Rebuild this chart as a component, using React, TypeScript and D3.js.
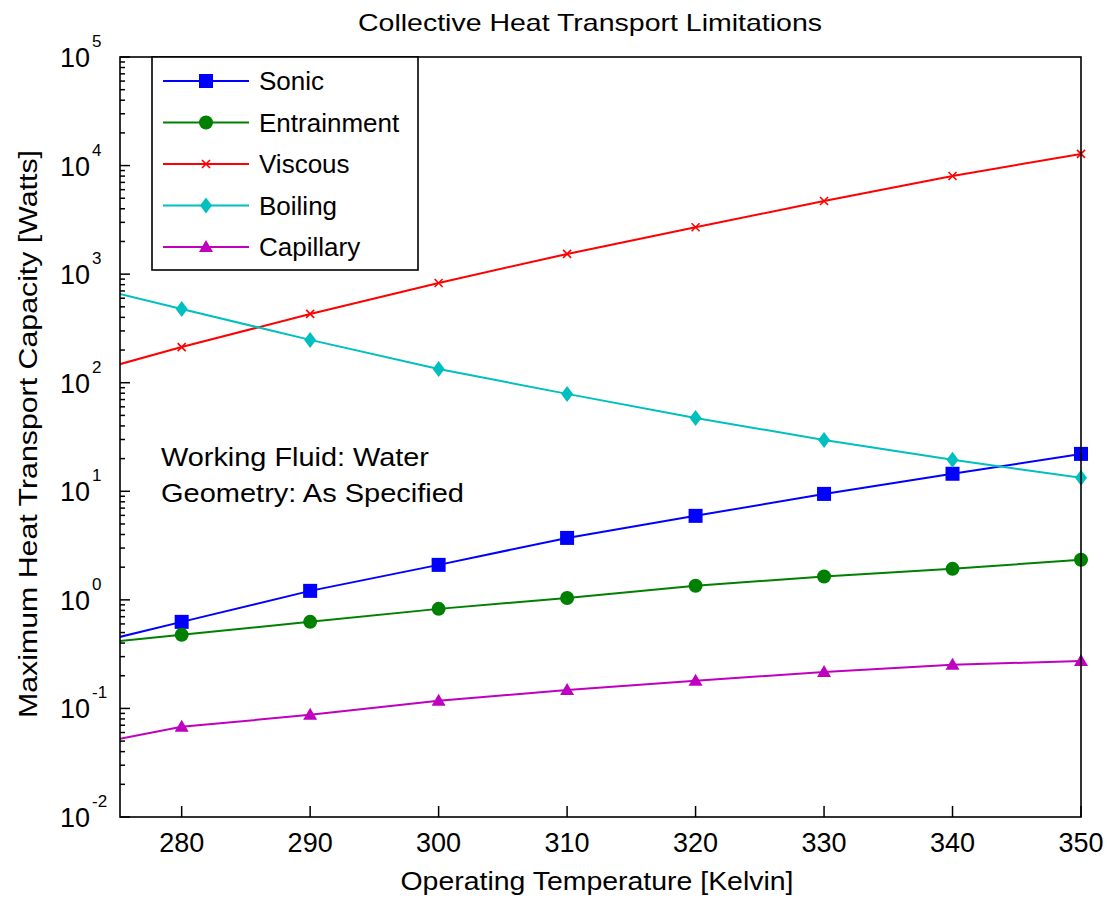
import React from 'react'
import * as d3 from 'd3'

// operating temperature [K]; first point sits just left of the axis and has no marker
const temps = [275, 280, 290, 300, 310, 320, 330, 340, 350]
const sonic = [0.45, 0.627, 1.21, 2.1, 3.72, 5.94, 9.46, 14.5, 22.1]
const entrainment = [0.415, 0.476, 0.627, 0.826, 1.04, 1.35, 1.64, 1.93, 2.34]
const viscous = [146, 213, 430, 829, 1535, 2700, 4720, 8020, 12800]
const boiling = [665, 478, 248, 134, 78.9, 47.4, 29.7, 19.5, 13.3]
const capillary = [0.052, 0.0677, 0.0873, 0.1175, 0.148, 0.18, 0.217, 0.252, 0.274]

const seriesNames = ['Sonic', 'Entrainment', 'Viscous', 'Boiling', 'Capillary']
const seriesColors = ['#0000ff', '#008000', '#ff0000', '#00bfbf', '#bf00bf']
const seriesMarkers = ['square', 'circle', 'x', 'diamond', 'triangle']
const xTicks = [280, 290, 300, 310, 320, 330, 340, 350]
const yExponents = [-2, -1, 0, 1, 2, 3, 4, 5]

const FONT = '"Liberation Sans", Arial, sans-serif'

function Marker({ kind, x, y, color }: { kind: string; x: number; y: number; color: string }) {
  if (kind === 'square') return <rect x={x - 7} y={y - 7} width={14} height={14} fill={color} />
  if (kind === 'circle') return <circle cx={x} cy={y} r={7} fill={color} />
  if (kind === 'diamond')
    return <path d={`M${x},${y - 8}L${x + 6},${y}L${x},${y + 8}L${x - 6},${y}Z`} fill={color} />
  if (kind === 'triangle')
    return <path d={`M${x},${y - 7}L${x + 7},${y + 5}L${x - 7},${y + 5}Z`} fill={color} />
  return (
    <path
      d={`M${x - 4},${y - 4}L${x + 4},${y + 4}M${x - 4},${y + 4}L${x + 4},${y - 4}`}
      stroke={color}
      strokeWidth={1.6}
      fill="none"
    />
  )
}

export default function App() {
  const margin = { top: 57, right: 26, bottom: 83, left: 120 }
  const width = 1107
  const height = 900
  const x = d3.scaleLinear().domain([275.2, 350]).range([margin.left, width - margin.right])
  const y = d3.scaleLog().domain([1e-2, 1e5]).range([height - margin.bottom, margin.top])

  const allSeries = [sonic, entrainment, viscous, boiling, capillary]
  const line = d3
    .line<number>()
    .x((d, i) => x(temps[i]))
    .y(d => y(d))

  const minorTicks: number[] = []
  for (let e = -2; e < 5; e++) for (let m = 2; m < 10; m++) minorTicks.push(m * Math.pow(10, e))

  const x0 = margin.left
  const x1 = width - margin.right
  const y0 = margin.top
  const y1 = height - margin.bottom

  const legend = { x: 152, y: 57, w: 266, h: 213, row: 41.5, first: 81 }

  return (
    <svg
      width={width}
      height={height}
      style={{ position: 'absolute', left: 0, top: 0, background: '#fff' }}
      fontFamily={FONT}
    >
      <defs>
        <clipPath id="plot">
          <rect x={x0} y={y0} width={x1 - x0} height={y1 - y0} />
        </clipPath>
      </defs>

      <text x={590} y={31} fontSize={24} textAnchor="middle" textLength={464} lengthAdjust="spacingAndGlyphs">
        Collective Heat Transport Limitations
      </text>

      {/* series */}
      <g clipPath="url(#plot)">
        {allSeries.map((s, k) => (
          <path key={k} d={line(s) || ''} fill="none" stroke={seriesColors[k]} strokeWidth={2} />
        ))}
      </g>
      {allSeries.map((s, k) => (
        <g key={k}>
          {s.map((v, i) =>
            temps[i] % 10 === 0 ? (
              <Marker key={i} kind={seriesMarkers[k]} x={x(temps[i])} y={y(v)} color={seriesColors[k]} />
            ) : null
          )}
        </g>
      ))}

      {/* axes box */}
      <rect x={x0} y={y0} width={x1 - x0} height={y1 - y0} fill="none" stroke="#000" strokeWidth={1.6} />

      {/* y ticks */}
      {minorTicks.map((t, i) => (
        <line key={i} x1={x0} x2={x0 + 5} y1={y(t)} y2={y(t)} stroke="#000" strokeWidth={1.5} />
      ))}
      {yExponents.map(e => (
        <g key={e}>
          <line x1={x0} x2={x0 + 10} y1={y(Math.pow(10, e))} y2={y(Math.pow(10, e))} stroke="#000" strokeWidth={1.5} />
          <text x={90} y={y(Math.pow(10, e)) + 10} fontSize={27} textAnchor="end">
            10
          </text>
          <text x={92} y={y(Math.pow(10, e)) - 10} fontSize={17}>
            {e}
          </text>
        </g>
      ))}

      {/* x ticks */}
      {xTicks.map(t => (
        <g key={t}>
          <line x1={x(t)} x2={x(t)} y1={y1} y2={y1 - 11} stroke="#000" strokeWidth={1.5} />
          <text x={x(t)} y={y1 + 35} fontSize={27} textAnchor="middle">
            {t}
          </text>
        </g>
      ))}

      <text x={597} y={890} fontSize={25} textAnchor="middle" textLength={393} lengthAdjust="spacingAndGlyphs">
        Operating Temperature [Kelvin]
      </text>
      <text
        transform="translate(37,434) rotate(-90)"
        fontSize={25}
        textAnchor="middle"
        textLength={568}
        lengthAdjust="spacingAndGlyphs"
      >
        Maximum Heat Transport Capacity [Watts]
      </text>

      {/* annotation */}
      <text x={161} y={466} fontSize={25} textLength={268} lengthAdjust="spacingAndGlyphs">
        Working Fluid: Water
      </text>
      <text x={161} y={502} fontSize={25} textLength={303} lengthAdjust="spacingAndGlyphs">
        Geometry: As Specified
      </text>

      {/* legend */}
      <rect x={legend.x} y={legend.y} width={legend.w} height={legend.h} fill="#fff" stroke="#000" strokeWidth={1.6} />
      {seriesNames.map((name, k) => {
        const ly = legend.first + k * legend.row
        return (
          <g key={name}>
            <line x1={163} x2={249} y1={ly} y2={ly} stroke={seriesColors[k]} strokeWidth={2} />
            <Marker kind={seriesMarkers[k]} x={206} y={ly} color={seriesColors[k]} />
            <text x={259} y={ly + 9} fontSize={26}>
              {name}
            </text>
          </g>
        )
      })}
    </svg>
  )
}
